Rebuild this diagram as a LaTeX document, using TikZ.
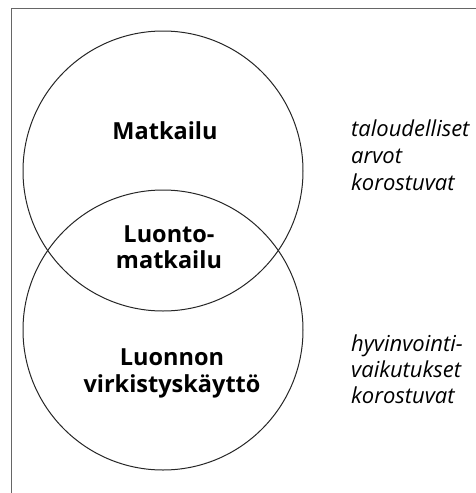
\documentclass[tikz,border=0pt]{standalone}
\usepackage{fontspec}
\setmainfont{Open Sans}
\begin{document}
\begin{tikzpicture}[x=1pt,y=-1pt,
  circ/.style={draw=black!85, line width=1.0pt},
  frame/.style={draw=black!60, line width=0.9pt},
  lbl/.style={font=\fontsize{23.5}{27}\selectfont\bfseries, anchor=base, inner sep=0pt},
  side/.style={font=\fontsize{22}{26}\selectfont\itshape, anchor=base west, inner sep=0pt}]
\useasboundingbox (0,0) rectangle (476,493);
\draw[frame] (11,493) -- (11,8) -- (476,8);
\draw[circ] (163,171) circle (140);
\draw[circ] (163,330) circle (140);
\node[lbl] (m) at (165,139) {Matkailu};
\node[lbl] (l1) at (169,242) {Luonto-};
\node[lbl] (l2) at (169,268) {matkailu};
\node[lbl] (v1) at (172,365) {Luonnon};
\node[lbl] (v2) at (172,392) {virkistyskäyttö};
\node[side] (t1) at (351,136) {taloudelliset};
\node[side] (t2) at (351,163) {arvot};
\node[side] (t3) at (351,190) {korostuvat};
\node[side] (h1) at (351,351) {hyvinvointi-};
\node[side] (h2) at (351,377) {vaikutukset};
\node[side] (h3) at (351,403) {korostuvat};
\end{tikzpicture}
\end{document}
